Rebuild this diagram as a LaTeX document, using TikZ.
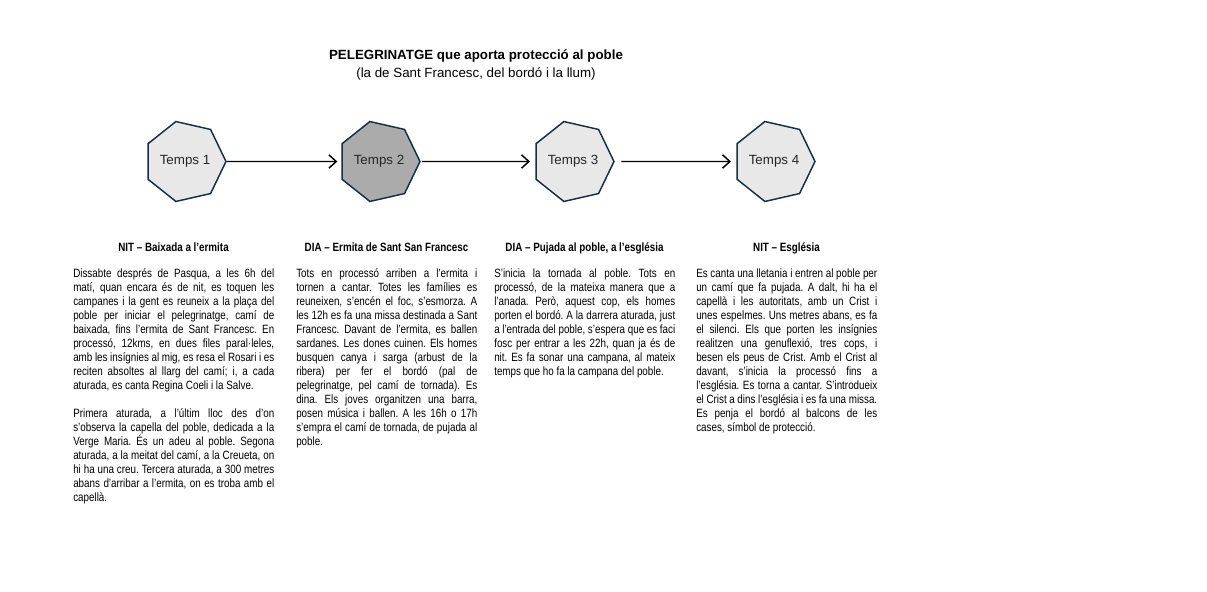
\documentclass[tikz,border=0pt]{standalone}
\usepackage{fontspec}
\setmainfont{Liberation Sans}
\newfontfamily\narrow{Liberation Sans}[FakeStretch=0.82]
\usetikzlibrary{shapes.geometric,arrows.meta}
\definecolor{vora}{HTML}{17303F}
\definecolor{clar}{HTML}{E8E8E8}
\definecolor{fosc}{HTML}{ABABAB}
\setlength{\parindent}{0pt}
\tolerance=9999
\hbadness=10000
\hyphenpenalty=10000
\frenchspacing
\tikzset{
  temps/.style={regular polygon,regular polygon sides=7,shape border rotate=-90,
    minimum size=61.5pt,inner sep=0pt,draw=vora,line width=1.1pt,
    font=\fontsize{10}{12}\selectfont,text=black!85},
  pas/.style={-{Straight Barb[length=5.5pt,width=10pt]},line width=1.1pt},
  titol/.style={font=\narrow\bfseries\fontsize{9}{10.5}\selectfont,inner sep=0pt,anchor=base},
  relat/.style={inner sep=0pt,anchor=base west,align=justify,
    font=\narrow\fontsize{9}{10.5}\selectfont}
}
\begin{document}
\begin{tikzpicture}[x=0.75pt,y=-0.75pt]
\useasboundingbox (0,0) rectangle (1207,592);
% titol
\node (cap) at (476,60) [anchor=base,font=\bfseries\fontsize{10}{12}\selectfont] {PELEGRINATGE que aporta protecció al poble};
\node (sub) at (476,77.5) [anchor=base,font=\fontsize{10}{12}\selectfont] {(la de Sant Francesc, del bordó i la llum)};
% els quatre temps
\foreach \i/\x/\c in {1/185/clar,2/379/fosc,3/573/clar,4/774/clar}
  \node[temps,fill=\c] (t\i) at (\x,161.5) {Temps \i};
\draw[pas,shorten >=3pt] (t1) -- (t2);
\draw[pas,shorten <=1pt,shorten >=4pt] (t2) -- (t3);
\draw[pas,shorten <=5pt,shorten >=4pt] (t3) -- (t4);
% capcaleres
\node[titol] (h1) at (173.5,251) {NIT – Baixada a l’ermita};
\node[titol] (h2) at (386.5,251) {DIA – Ermita de Sant San Francesc};
\node[titol] (h3) at (584.5,251) {DIA – Pujada al poble, a l’església};
\node[titol] (h4) at (786.5,251) {NIT – Església};
% textos
\node[relat,text width=150.75pt] (r1) at (73,277) {Dissabte després de Pasqua, a les 6h del\linebreak
matí, quan encara és de nit, es toquen les\linebreak
campanes i la gent es reuneix a la plaça del\linebreak
poble per iniciar el pelegrinatge, camí de\linebreak
baixada, fins l’ermita de Sant Francesc. En\linebreak
processó, 12kms, en dues files paral·leles,\linebreak
amb les insígnies al mig, es resa el Rosari i es\linebreak
reciten absoltes al llarg del camí; i, a cada\linebreak
aturada, es canta Regina Coeli i la Salve.\par\vskip10.5pt
Primera aturada, a l’últim lloc des d’on\linebreak
s’observa la capella del poble, dedicada a la\linebreak
Verge Maria. És un adeu al poble. Segona\linebreak
aturada, a la meitat del camí, a la Creueta, on\linebreak
hi ha una creu. Tercera aturada, a 300 metres\linebreak
abans d’arribar a l’ermita, on es troba amb el\linebreak
capellà.};
\node[relat,text width=135.75pt] (r2) at (296,277) {Tots en processó arriben a l’ermita i\linebreak
tornen a cantar. Totes les famílies es\linebreak
reuneixen, s’encén el foc, s’esmorza. A\linebreak
les 12h es fa una missa destinada a Sant\linebreak
Francesc. Davant de l’ermita, es ballen\linebreak
sardanes. Les dones cuinen. Els homes\linebreak
busquen canya i sarga (arbust de la\linebreak
ribera) per fer el bordó (pal de\linebreak
pelegrinatge, pel camí de tornada). Es\linebreak
dina. Els joves organitzen una barra,\linebreak
posen música i ballen. A les 16h o 17h\linebreak
s’empra el camí de tornada, de pujada al\linebreak
poble.};
\node[relat,text width=135.75pt] (r3) at (494,277) {S’inicia la tornada al poble. Tots en\linebreak
processó, de la mateixa manera que a\linebreak
l’anada. Però, aquest cop, els homes\linebreak
porten el bordó. A la darrera aturada, just\linebreak
a l’entrada del poble, s’espera que es faci\linebreak
fosc per entrar a les 22h, quan ja és de\linebreak
nit. Es fa sonar una campana, al mateix\linebreak
temps que ho fa la campana del poble.};
\node[relat,text width=135.75pt] (r4) at (696,277) {Es canta una lletania i entren al poble per\linebreak
un camí que fa pujada. A dalt, hi ha el\linebreak
capellà i les autoritats, amb un Crist i\linebreak
unes espelmes. Uns metres abans, es fa\linebreak
el silenci. Els que porten les insígnies\linebreak
realitzen una genuflexió, tres cops, i\linebreak
besen els peus de Crist. Amb el Crist al\linebreak
davant, s’inicia la processó fins a\linebreak
l’església. Es torna a cantar. S’introdueix\linebreak
el Crist a dins l’església i es fa una missa.\linebreak
Es penja el bordó al balcons de les\linebreak
cases, símbol de protecció.};
\end{tikzpicture}
\end{document}
